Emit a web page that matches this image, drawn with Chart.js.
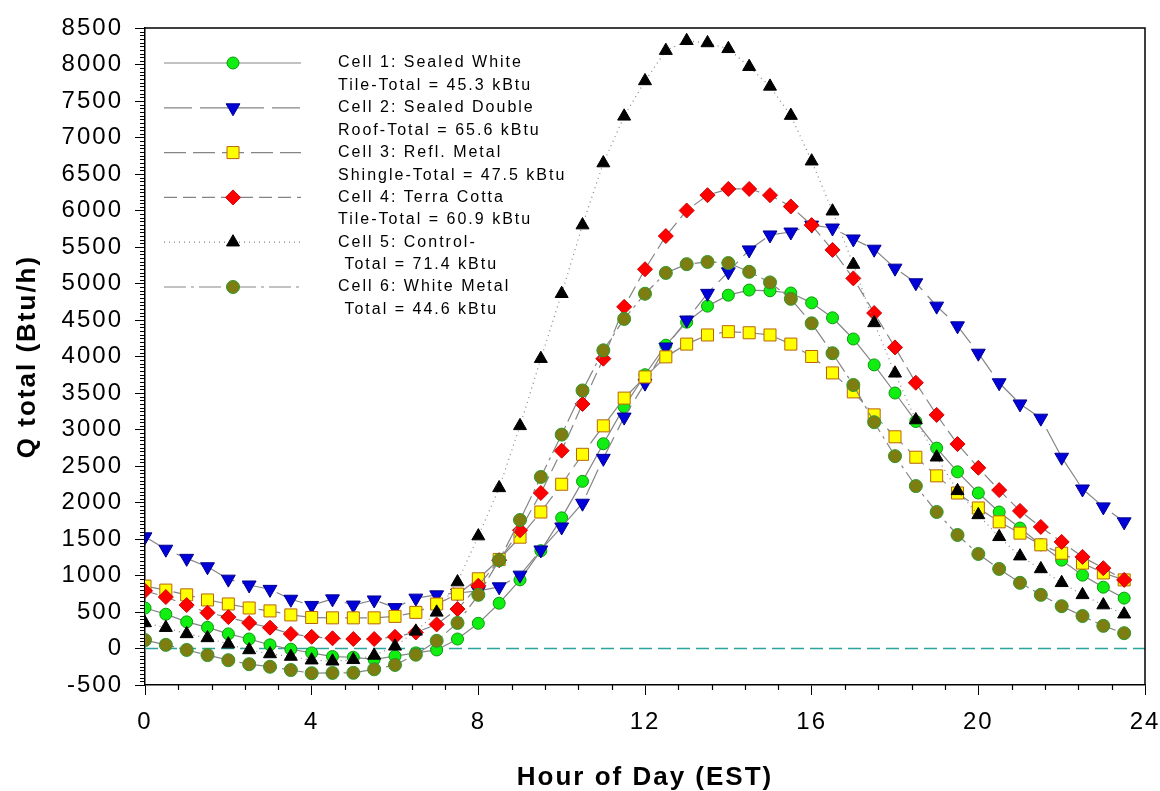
<!DOCTYPE html>
<html>
<head>
<meta charset="utf-8">
<title>Q total by hour of day</title>
<script src="https://cdn.jsdelivr.net/npm/chart.js@4.4.1/dist/chart.umd.min.js"></script>
<style>
  html, body { margin: 0; padding: 0; background: #fff; }
  #wrap { width: 1160px; height: 791px; }
</style>
</head>
<body>
<div id="wrap"><canvas id="qChart" width="1160" height="791"></canvas></div>
<script>
// hour of day (EST), every half hour
const hours = [0, 0.5, 1, 1.5, 2, 2.5, 3, 3.5, 4, 4.5, 5, 5.5, 6, 6.5, 7, 7.5,
  8, 8.5, 9, 9.5, 10, 10.5, 11, 11.5, 12, 12.5, 13, 13.5, 14, 14.5, 15, 15.5,
  16, 16.5, 17, 17.5, 18, 18.5, 19, 19.5, 20, 20.5, 21, 21.5, 22, 22.5, 23, 23.5];

// Q total (Btu/h)
const cell1 = [555, 470, 365, 290, 200, 130, 50, -10, -60, -110, -120, -150, -105, -60, -20, 130,
  345, 620, 940, 1340, 1790, 2290, 2805, 3310, 3750, 4155, 4470, 4690, 4840, 4910, 4900, 4870,
  4735, 4530, 4240, 3885, 3500, 3110, 2745, 2420, 2130, 1870, 1650, 1420, 1210, 1005, 840, 690];
const cell2 = [1530, 1360, 1235, 1120, 950, 870, 810, 675, 590, 680, 595, 665, 560, 690, 735, 760,
  790, 845, 1005, 1350, 1665, 1990, 2605, 3170, 3635, 4130, 4500, 4865, 5160, 5460, 5665, 5705,
  5800, 5760, 5610, 5470, 5210, 5010, 4690, 4420, 4045, 3640, 3350, 3155, 2620, 2185, 1940, 1735];
const cell3 = [855, 800, 735, 665, 610, 555, 515, 460, 425, 420, 420, 420, 440, 495, 610, 745,
  955, 1220, 1525, 1870, 2250, 2660, 3050, 3430, 3720, 3995, 4170, 4295, 4340, 4325, 4295, 4170,
  4000, 3775, 3515, 3200, 2900, 2620, 2365, 2130, 1925, 1735, 1580, 1420, 1305, 1170, 1035, 940];
const cell4 = [790, 705, 595, 490, 430, 350, 285, 200, 160, 140, 130, 130, 160, 220, 330, 540,
  860, 1210, 1620, 2130, 2710, 3350, 3970, 4680, 5195, 5650, 6000, 6210, 6295, 6295, 6210, 6055,
  5800, 5460, 5070, 4595, 4125, 3640, 3200, 2800, 2475, 2170, 1885, 1665, 1460, 1255, 1100, 940];
const cell5 = [350, 285, 200, 145, 60, -20, -75, -110, -160, -175, -155, -95, 30, 235, 495, 910,
  1540, 2200, 3050, 3970, 4860, 5800, 6650, 7290, 7775, 8190, 8325, 8295, 8215, 7970, 7700, 7300,
  6675, 5990, 5260, 4460, 3770, 3130, 2620, 2160, 1830, 1530, 1265, 1090, 900, 735, 595, 470];
const cell6 = [115, 50, -20, -90, -160, -215, -250, -295, -338, -335, -333, -285, -225, -85, 105, 350,
  735, 1210, 1760, 2350, 2930, 3535, 4085, 4515, 4860, 5145, 5265, 5295, 5280, 5160, 5015, 4790,
  4455, 4045, 3610, 3100, 2635, 2225, 1870, 1555, 1295, 1090, 900, 735, 580, 445, 310, 210];

// dashed zero reference line
const baselineX = [0, 24];
const baselineY = [0, 0];

const legendLines = [
  ["Cell 1: Sealed White", "Tile-Total = 45.3 kBtu"],
  ["Cell 2: Sealed Double", "Roof-Total = 65.6 kBtu"],
  ["Cell 3: Refl. Metal", "Shingle-Total = 47.5 kBtu"],
  ["Cell 4: Terra Cotta", "Tile-Total = 60.9 kBtu"],
  ["Cell 5: Control-", " Total = 71.4 kBtu"],
  ["Cell 6: White Metal", " Total = 44.6 kBtu"]
];

const xTickValues = [0, 4, 8, 12, 16, 20, 24];
const yTickValues = [-500, 0, 500, 1000, 1500, 2000, 2500, 3000, 3500, 4000, 4500,
  5000, 5500, 6000, 6500, 7000, 7500, 8000, 8500];

const FONT = "'Liberation Sans', Arial, sans-serif";
const LINE_GRAY = "#858585";

function makeSet(label, values, style) {
  return {
    label: label,
    data: values.map((v, i) => ({ x: hours[i], y: v })),
    borderColor: LINE_GRAY,
    borderWidth: 1.2,
    borderDash: style.dash,
    pointStyle: style.shape,
    pointRotation: style.rot || 0,
    pointRadius: style.r,
    pointBackgroundColor: style.fill,
    pointBorderColor: style.edge,
    pointBorderWidth: 1,
    tension: 0,
    order: style.order
  };
}

const datasets = [
  makeSet("Cell 1", cell1, { shape: "circle", r: 6, fill: "#11ee11", edge: "#0a9a0a", dash: [], order: 5 }),
  makeSet("Cell 2", cell2, { shape: "triangle", rot: 180, r: 8, fill: "#0000d8", edge: "#000090", dash: [28, 8], order: 4 }),
  makeSet("Cell 3", cell3, { shape: "rect", r: 8.5, fill: "#ffff00", edge: "#b8640a", dash: [22, 7], order: 3 }),
  makeSet("Cell 4", cell4, { shape: "rectRot", r: 7.5, fill: "#ff0000", edge: "#d00000", dash: [13, 6], order: 2 }),
  makeSet("Cell 5", cell5, { shape: "triangle", r: 7.5, fill: "#000000", edge: "#000000", dash: [1, 4], order: 1 }),
  makeSet("Cell 6", cell6, { shape: "circle", r: 6.5, fill: "#7d7d12", edge: "#2a9a2a", dash: [22, 5, 3, 5], order: 0 }),
  {
    label: "zero",
    data: baselineX.map((x, i) => ({ x: x, y: baselineY[i] })),
    borderColor: "#2aa59c",
    borderWidth: 1.5,
    borderDash: [13, 6],
    pointRadius: 0,
    order: 20
  }
];

// letter spacing for the wide bitmap-like lettering of the original
const spacingPlugin = {
  id: "spacing",
  beforeDraw(chart) {
    chart.ctx.letterSpacing = "2px";
  }
};

// frame, minor ticks and the inset legend
const decorPlugin = {
  id: "decor",
  afterDraw(chart) {
    const ctx = chart.ctx;
    const area = chart.chartArea;
    const xs = chart.scales.x;
    const ys = chart.scales.y;
    ctx.save();
    ctx.strokeStyle = "#000";
    ctx.lineWidth = 1.2;
    ctx.setLineDash([]);
    ctx.beginPath();
    for (let v = -500; v <= 8500; v += 50) {
      if (v % 500 === 0) continue;
      const py = Math.round(ys.getPixelForValue(v)) + 0.5;
      ctx.moveTo(area.left - 5, py);
      ctx.lineTo(area.left, py);
    }
    for (let k = 1; k * 0.8 < 24; k++) {
      if (k % 5 === 0) continue;
      const px = Math.round(xs.getPixelForValue(k * 0.8)) + 0.5;
      ctx.moveTo(px, area.bottom);
      ctx.lineTo(px, area.bottom + 5);
    }
    ctx.stroke();

    ctx.lineWidth = 1.5;
    ctx.beginPath();
    ctx.moveTo(area.left, area.top);
    ctx.lineTo(area.right, area.top);
    ctx.lineTo(area.right, area.bottom);
    ctx.stroke();

    // legend
    const lineX0 = area.left + 19;
    const lineX1 = area.left + 156;
    const markX = area.left + 88;
    const textX = area.left + 193;
    ctx.font = "16px " + FONT;
    ctx.textBaseline = "middle";
    ctx.textAlign = "left";
    ctx.letterSpacing = "2px";
    legendLines.forEach((lines, i) => {
      const ds = chart.data.datasets[i];
      const y = area.top + 35 + i * 44.8;
      ctx.strokeStyle = ds.borderColor;
      ctx.lineWidth = ds.borderWidth;
      ctx.setLineDash(ds.borderDash);
      ctx.beginPath();
      ctx.moveTo(lineX0, y);
      ctx.lineTo(lineX1, y);
      ctx.stroke();
      ctx.setLineDash([]);
      ctx.fillStyle = ds.pointBackgroundColor;
      ctx.strokeStyle = ds.pointBorderColor;
      ctx.lineWidth = ds.pointBorderWidth;
      if (Chart.helpers && Chart.helpers.drawPoint) {
        Chart.helpers.drawPoint(ctx, {
          pointStyle: ds.pointStyle,
          rotation: ds.pointRotation,
          radius: ds.pointRadius,
          borderWidth: ds.pointBorderWidth
        }, markX, y);
      } else {
        ctx.beginPath();
        ctx.arc(markX, y, ds.pointRadius, 0, Math.PI * 2);
        ctx.fill();
        ctx.stroke();
      }
      ctx.fillStyle = "#000";
      ctx.fillText(lines[0], textX, y);
      ctx.fillText(lines[1], textX, y + 22.5);
    });
    ctx.restore();
  }
};

new Chart(document.getElementById("qChart"), {
  type: "line",
  data: { datasets: datasets },
  options: {
    responsive: false,
    animation: false,
    layout: { padding: { left: 0, top: 28, right: 15, bottom: 0 } },
    plugins: {
      legend: { display: false },
      tooltip: { enabled: false }
    },
    scales: {
      x: {
        type: "linear",
        min: 0,
        max: 24,
        afterBuildTicks: (scale) => { scale.ticks = xTickValues.map(v => ({ value: v })); },
        afterFit: (scale) => {
          scale.height = 106;
          scale.paddingLeft = 0;
          scale.paddingRight = 0;
        },
        ticks: {
          autoSkip: false,
          maxRotation: 0,
          padding: 13,
          color: "#000",
          font: { family: FONT, size: 24 },
          callback: (v) => String(v)
        },
        grid: { display: true, drawOnChartArea: false, tickLength: 10, color: "#000", tickColor: "#000" },
        border: { display: true, color: "#000", width: 1.5 },
        title: {
          display: true,
          text: "Hour of Day (EST)",
          color: "#000",
          font: { family: FONT, size: 26, weight: "bold", lineHeight: 1 },
          padding: { top: 0, bottom: 0 }
        }
      },
      y: {
        type: "linear",
        min: -500,
        max: 8500,
        afterBuildTicks: (scale) => { scale.ticks = yTickValues.map(v => ({ value: v })); },
        afterFit: (scale) => {
          scale.width = 145;
          scale.paddingTop = 0;
          scale.paddingBottom = 0;
        },
        ticks: {
          autoSkip: false,
          padding: 12,
          color: "#000",
          font: { family: FONT, size: 24 },
          callback: (v) => String(v)
        },
        grid: { display: true, drawOnChartArea: false, tickLength: 10, color: "#000", tickColor: "#000" },
        border: { display: true, color: "#000", width: 1.5 },
        title: {
          display: true,
          text: "Q total (Btu/h)",
          color: "#000",
          font: { family: FONT, size: 26, weight: "bold", lineHeight: 1 },
          padding: { top: 15, bottom: 0 }
        }
      }
    }
  },
  plugins: [spacingPlugin, decorPlugin]
});
</script>
</body>
</html>
